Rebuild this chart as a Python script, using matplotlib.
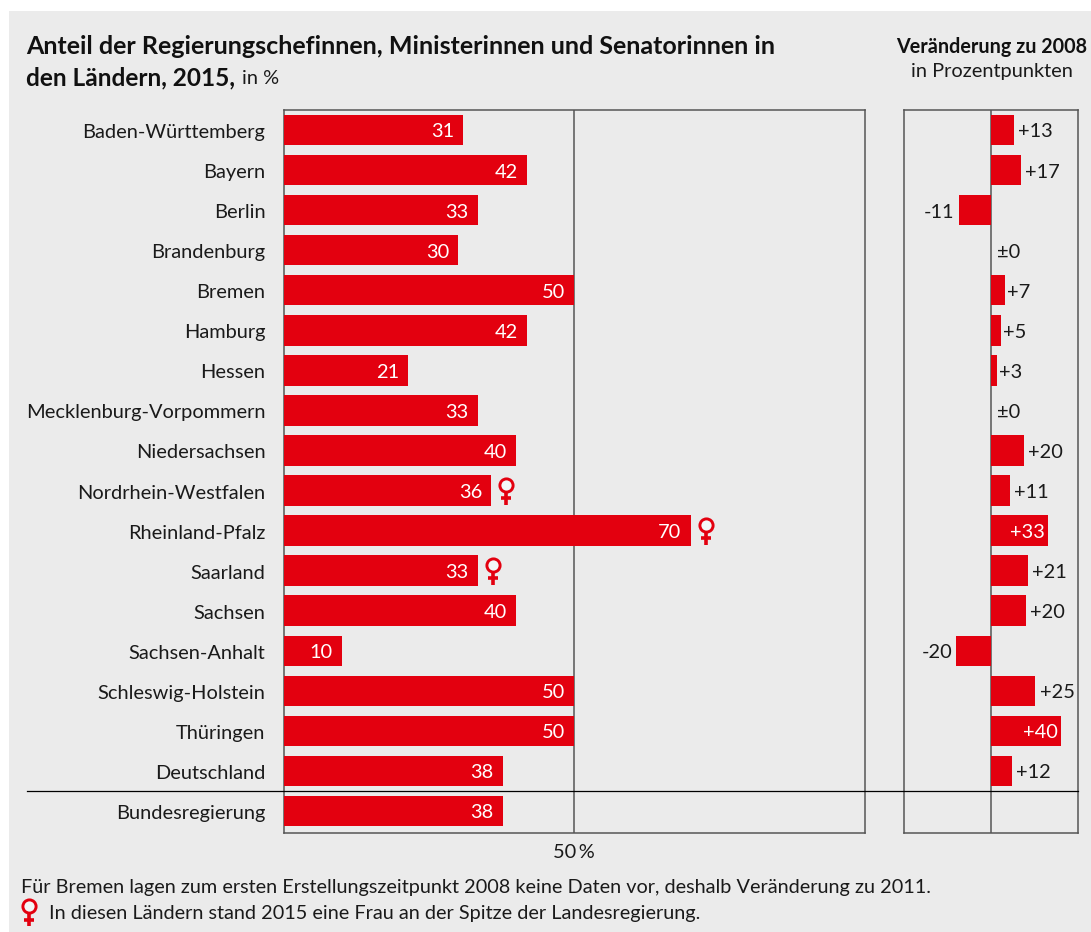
import matplotlib
matplotlib.use('Agg')
import matplotlib.pyplot as plt
from matplotlib.lines import Line2D
from matplotlib.patches import Rectangle
from matplotlib.transforms import ScaledTranslation

W, H = 1091, 932
RED = '#e3000f'
BG = '#ebebeb'
FRAME = '#555555'
TEXT = '#1a1a1a'
FS = 14.4

plt.rcParams['font.family'] = ['Lato', 'DejaVu Sans']

laender = ['Baden-Württemberg', 'Bayern', 'Berlin', 'Brandenburg', 'Bremen', 'Hamburg', 'Hessen',
           'Mecklenburg-Vorpommern', 'Niedersachsen', 'Nordrhein-Westfalen', 'Rheinland-Pfalz',
           'Saarland', 'Sachsen', 'Sachsen-Anhalt', 'Schleswig-Holstein', 'Thüringen',
           'Deutschland', 'Bundesregierung']
anteil = [30.9, 41.9, 33.4, 30, 50, 41.8, 21.4, 33.4, 40, 35.7, 70, 33.4, 40, 10, 50, 50, 37.7, 37.7]
anteil_text = ['31', '42', '33', '30', '50', '42', '21', '33', '40', '36', '70', '33', '40', '10',
               '50', '50', '38', '38']
# bar lengths as drawn in the picture, Berlin is longer than its label says
veraenderung = [13, 17, -18.5, 0, 8, 5.8, 3.5, 0, 19, 11, 33, 21, 20, -20, 25.5, 40.5, 12, None]
veraenderung_text = ['+13', '+17', '-11', '±0', '+7', '+5', '+3', '±0', '+20', '+11', '+33', '+21',
                     '+20', '-20', '+25', '+40', '+12', '']
frau_an_spitze = ['Nordrhein-Westfalen', 'Rheinland-Pfalz', 'Saarland']


def px(x, y):
    return x / W, 1 - y / H


def axes_px(x0, y0, x1, y1):
    return fig.add_axes([x0 / W, 1 - y1 / H, (x1 - x0) / W, (y1 - y0) / H])


def put(x, y, s, **kw):
    fx, fy = px(x, y)
    kw.setdefault('color', TEXT)
    kw.setdefault('fontsize', FS)
    kw.setdefault('va', 'center')
    fig.text(fx, fy, s, **kw)


def venus(x, y):
    # ring, stem and cross bar, x and y are pixels of the ring centre
    fig.add_artist(Line2D(*zip(px(x, y + 6), px(x, y + 20)), color=RED, lw=2.6, solid_capstyle='butt'))
    fig.add_artist(Line2D(*zip(px(x - 5, y + 13.5), px(x + 5, y + 13.5)), color=RED, lw=2.6, solid_capstyle='butt'))
    fx, fy = px(x, y)
    fig.add_artist(Line2D([fx], [fy], marker='o', ms=9.5, mfc='#f3f7f7', mec=RED, mew=2.1, ls='none'))


fig = plt.figure(figsize=(W / 100, H / 100), dpi=100, facecolor='white')
fig.add_artist(Rectangle(px(8.5, H), (W - 8.5) / W, (H - 11) / H, color=BG, lw=0, zorder=-5))

rows = list(range(len(laender)))
ylim = (17.55, -0.5)
down = ScaledTranslation(0, -1 / 100, fig.dpi_scale_trans)

ax = axes_px(283.5, 110, 865, 833)
ax.set_facecolor('none')
ax.barh(rows, anteil, height=0.76, color=RED, zorder=3)
ax.axvline(50, color=FRAME, lw=1.1, zorder=1)
ax.set_xlim(0, 100)
ax.set_ylim(ylim)
ax.set_yticks(rows)
ax.set_yticklabels(laender, fontsize=FS, color=TEXT)
ax.set_xticks([50])
ax.set_xticklabels(['50\u2009%'], fontsize=FS, color=TEXT)
ax.tick_params(axis='y', length=0, pad=13)
ax.tick_params(axis='x', length=0, pad=8)
for lab in ax.get_yticklabels():
    lab.set_transform(lab.get_transform() + down)
for s in ax.spines.values():
    s.set_color(FRAME)
    s.set_linewidth(1.1)
for i, v in enumerate(anteil):
    ax.annotate(anteil_text[i], (v, i), xytext=(-6.5, -1.4), textcoords='offset points', ha='right',
                va='center', color='white', fontsize=FS, zorder=4)

ax2 = axes_px(904, 110, 1078, 833)
ax2.set_facecolor('none')
ax2.barh(rows[:-1], veraenderung[:-1], height=0.76, color=RED, zorder=3)
ax2.axvline(0, color=FRAME, lw=1.1, zorder=1)
ax2.set_xlim(-50, 50)
ax2.set_ylim(ylim)
ax2.set_xticks([])
ax2.set_yticks([])
for s in ax2.spines.values():
    s.set_color(FRAME)
    s.set_linewidth(1.1)
for i, v in enumerate(veraenderung[:-1]):
    t = veraenderung_text[i]
    if v >= 30:
        ax2.annotate(t, (v, i), xytext=(-2.5, -1.4), textcoords='offset points', ha='right', va='center',
                     color='white', fontsize=FS, zorder=4)
    elif v < 0:
        ax2.annotate(t, (v, i), xytext=(-3, -1.4), textcoords='offset points', ha='right', va='center',
                     color=TEXT, fontsize=FS, zorder=4)
    else:
        off = 4 if v == 0 else (3 if v > 10 else 1.5)
        ax2.annotate(t, (v, i), xytext=(off, -1.4), textcoords='offset points', ha='left', va='center',
                     color=TEXT, fontsize=FS, zorder=4)

# separator above Bundesregierung runs over both panels
fig.add_artist(Line2D(*zip(px(27, 790.5), px(1078, 790.5)), color='black', lw=0.9))

fig.canvas.draw()
for name in frau_an_spitze:
    i = laender.index(name)
    bx, by = ax.transData.transform((anteil[i], i))
    venus(bx + 15, H - by - 6)

put(26, 46, 'Anteil der Regierungschefinnen, Ministerinnen und Senatorinnen in', fontsize=18, fontweight='bold', color='#111111')
put(26, 78, 'den Ländern, 2015,', fontsize=17.6, fontweight='bold', color='#111111')
put(242, 79, 'in %', fontsize=FS)
put(992, 47, 'Veränderung zu 2008', fontsize=14.2, fontweight='bold', ha='center', color='#111111')
put(992, 72, 'in Prozentpunkten', fontsize=FS, ha='center')
put(21, 887, 'Für Bremen lagen zum ersten Erstellungszeitpunkt 2008 keine Daten vor, deshalb Veränderung zu 2011.', fontsize=14.27)
put(49, 913, 'In diesen Ländern stand 2015 eine Frau an der Spitze der Landesregierung.', fontsize=14.27)
venus(28.5, 906)

fig.savefig('out.png', dpi=100)
